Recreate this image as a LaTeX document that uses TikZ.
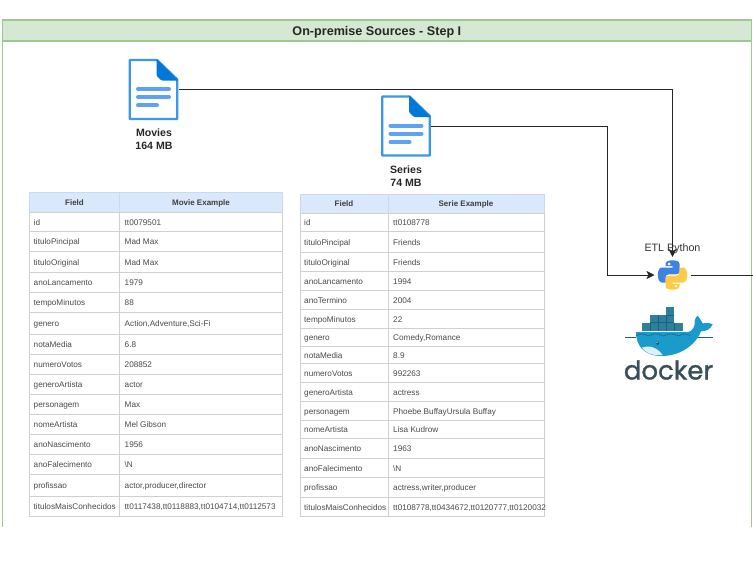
\documentclass[tikz,border=0pt]{standalone}
\usepackage{fontspec}
\setmainfont{Liberation Sans}
\newfontfamily\dockerfont[FakeBold=1.2]{Poppins}
\usetikzlibrary{arrows.meta,calc}
\definecolor{frameG}{HTML}{9CC98E}
\definecolor{headG}{HTML}{D5E8D4}
\definecolor{headB}{HTML}{DAE8FC}
\definecolor{headBline}{HTML}{CAD9EC}
\definecolor{cellLine}{HTML}{D0D0D0}
\definecolor{cellText}{HTML}{4A4A4A}
\definecolor{docBlue}{HTML}{3A97EA}
\definecolor{docDark}{HTML}{0078D7}
\definecolor{docLine}{HTML}{5EA3F2}
\definecolor{pyBlue}{HTML}{3F82E0}
\definecolor{pyYellow}{HTML}{FFCB45}
\definecolor{crate}{HTML}{2E7F9C}
\definecolor{crateD}{HTML}{1F5F78}
\definecolor{whale}{HTML}{1B9BCB}
\definecolor{whaleD}{HTML}{0F6F95}
\definecolor{dockText}{HTML}{394E56}
\tikzset{
  cellbox/.style={draw=cellLine,line width=1pt,fill=white,inner sep=0pt,outer sep=0pt},
  headbox/.style={draw=headBline,line width=1pt,fill=headB,inner sep=0pt,outer sep=0pt},
  celltext/.style={font=\fontsize{8.2}{10}\selectfont,text=cellText,inner sep=0pt,anchor=west,text height=6pt,text depth=1.8pt},
  headtext/.style={font=\bfseries\fontsize{8}{10}\selectfont,text=cellText!85!black,inner sep=0pt,text height=6pt,text depth=1.8pt},
  doclabel/.style={font=\bfseries\fontsize{10.6}{12.8}\selectfont,text=black!85,align=center,inner sep=0pt},
  flow/.style={draw=black!85,line width=.9pt,-{Stealth[length=8pt,width=8pt,inset=2pt]}},
  plainflow/.style={draw=black!85,line width=.9pt},
  framerule/.style={draw=frameG,line width=1.1pt},
  pics/docicon/.style={code={
    \draw[docBlue,line width=2.3pt,fill=white,line join=round] (-23.7,-29.5) -- (3.5,-29.5) -- (23.7,-10) -- (23.7,29.5) -- (-23.7,29.5) -- cycle;
    \fill[docDark,rounded corners=1pt] (3,-30.8) -- (25,-9) -- (8,-9) -- (3,-14) -- cycle;
    \draw[docLine,line width=4pt,line cap=round] (-15.5,-.5) -- (15.5,-.5);
    \draw[docLine,line width=4pt,line cap=round] (-15.5,7.5) -- (15.5,7.5);
    \draw[docLine,line width=4pt,line cap=round] (-15.5,15.8) -- (3.5,15.8);
  }},
  pics/pylogo/.style={code={
    \fill[pyBlue] (-7,-7.5) -- (-7,-11) .. controls (-7,-13.5) and (-4,-14.7) .. (0,-14.7) .. controls (4,-14.7) and (7,-13.5) .. (7,-11) -- (7,-3.5) .. controls (7,-1.5) and (5.5,-.7) .. (3.5,-.7) -- (-3.5,-.7) .. controls (-5.5,-.7) and (-7,.5) .. (-7,3) -- (-7,7.5) -- (-10.5,7.5) .. controls (-13,7.5) and (-14.7,4.5) .. (-14.7,0) .. controls (-14.7,-4.5) and (-13,-7.5) .. (-10.5,-7.5) -- (0,-7.5) -- (0,-8.8) -- (-7,-8.8) -- cycle;
    \fill[pyYellow] (7,7.5) -- (7,11) .. controls (7,13.5) and (4,14.7) .. (0,14.7) .. controls (-4,14.7) and (-7,13.5) .. (-7,11) -- (-7,3.5) .. controls (-7,1.5) and (-5.5,.7) .. (-3.5,.7) -- (3.5,.7) .. controls (5.5,.7) and (7,-.5) .. (7,-3) -- (7,-7.5) -- (10.5,-7.5) .. controls (13,-7.5) and (14.7,-4.5) .. (14.7,0) .. controls (14.7,4.5) and (13,7.5) .. (10.5,7.5) -- (0,7.5) -- (0,8.8) -- (7,8.8) -- cycle;
    \fill[white] (-3.4,-11) circle[radius=1.4];
    \fill[white] (3.4,11) circle[radius=1.4];
  }}
}
% #1 prefix, #2 index, #3 top, #4 bottom, #5 left, #6 split, #7 right, #8 field, #9 value
\newcommand{\tabrow}[9]{%
  \pgfmathsetmacro{\rowmid}{(#3+#4)/2}%
  \pgfmathsetmacro{\rowh}{#4-#3}%
  \pgfmathsetmacro{\cola}{(#5+#6)/2}%
  \pgfmathsetmacro{\colb}{(#6+#7)/2}%
  \pgfmathsetmacro{\wa}{#6-#5}%
  \pgfmathsetmacro{\wb}{#7-#6}%
  \node[cellbox,minimum width=\wa pt,minimum height=\rowh pt] (#1a#2) at (\cola,\rowmid) {};
  \node[cellbox,minimum width=\wb pt,minimum height=\rowh pt] (#1b#2) at (\colb,\rowmid) {};
  \node[celltext] (#1ta#2) at ([xshift=4pt,yshift=-1.7pt]#1a#2.west) {#8};
  \node[celltext] (#1tb#2) at ([xshift=5pt,yshift=-1.7pt]#1b#2.west) {#9};
}
\newcommand{\mrow}[5]{\tabrow{m}{#1}{#2}{#3}{29.5}{119.5}{282.5}{#4}{#5}}
\newcommand{\srow}[5]{\tabrow{s}{#1}{#2}{#3}{300}{388}{544}{#4}{#5}}
\begin{document}
\begin{tikzpicture}[x=1pt,y=-1pt]
\useasboundingbox (0,0) rectangle (753,563);
% frame
\coordinate (frameBL) at (2.5,526.5);
\coordinate (frameBR) at (751.2,526.5);
\node[draw=frameG,line width=1.1pt,fill=headG,minimum width=748.7pt,minimum height=21pt,inner sep=0pt,outer sep=0pt,font=\bfseries\fontsize{12.6}{15}\selectfont,text=black!85,text height=9pt,text depth=0pt] (title) at (376.85,30.5) {On-premise Sources - Step I};
\draw[framerule] (title.south west) -- (frameBL);
\draw[framerule] (title.south east) -- (frameBR);
% documents
\node[minimum width=50pt,minimum height=62pt,inner sep=0pt,outer sep=0pt] (movies) at (153.5,89.5) {};
\pic at (movies.center) {docicon};
\node[doclabel] (movieslabel) at (154,139.5) {Movies\\164 MB};
\node[minimum width=50pt,minimum height=62pt,inner sep=0pt,outer sep=0pt] (series) at (406,126) {};
\pic at (series.center) {docicon};
\node[doclabel] (serieslabel) at (406,175.8) {Series\\74 MB};
% python
\node[font=\fontsize{10.7}{12}\selectfont,text=black!80,inner sep=0pt] (etl) at (672.5,248.5) {ETL Python};
\node[minimum width=36pt,minimum height=36pt,inner sep=0pt,outer sep=0pt] (python) at (672.5,275) {};
\pic at (python.center) {pylogo};
\coordinate (exit) at (753,275);
% connectors
\coordinate (c1) at (python.north |- movies.east);
\coordinate (c2) at (607,126);
\coordinate (c3) at (607,275);
\draw[flow] (movies.east) -- (c1) -- (python.north);
\draw[flow] (series.east) -- (c2) -- (c3) -- (python.west);
\draw[plainflow] (python.east) -- (exit);
% docker
\begin{scope}[shift={(620,300)},x=.3333pt,y=-.3333pt]
  \fill[crate] (138,22) rectangle (163,45);
  \fill[crate] (90,45) rectangle (163,68);
  \fill[crate] (65,68) rectangle (190,92);
  \draw[crateD,line width=.5pt] (90,68) -- (163,68) (138,45) -- (163,45) (115,45) -- (115,92) (138,45) -- (138,92) (163,68) -- (163,92) (90,68) -- (90,92);
  \draw[crateD,line width=.7pt] (48,112) -- (15,112) (230,112) -- (278,112);
  \fill[whale] (48,96) -- (205,96) .. controls (218,92) and (226,80) .. (224,62) .. controls (226,54) and (230,48) .. (233,47) .. controls (240,55) and (245,65) .. (248,70) .. controls (258,68) and (268,68) .. (278,73) .. controls (272,88) and (258,94) .. (243,94) .. controls (232,125) and (190,168) .. (125,168) .. controls (70,168) and (48,135) .. (48,96) -- cycle;
  \fill[white!85!whale] (65,143) .. controls (85,135) and (110,140) .. (128,165) .. controls (100,168) and (78,160) .. (65,143) -- cycle;
  \draw[whaleD,line width=.7pt] (48,108) .. controls (62,100) and (72,100) .. (85,108) .. controls (100,100) and (115,100) .. (130,108) .. controls (145,100) and (160,100) .. (175,108) .. controls (188,100) and (200,100) .. (212,108);
  \fill[whaleD!70!black] (113,130) circle[radius=5];
  \fill[white!70!whale] (111,128) circle[radius=2];
\end{scope}
\node[font=\dockerfont\fontsize{26}{28}\selectfont,text=dockText,inner sep=0pt] (docker) at (668.5,370) {docker};
% movie table
\node[headbox,minimum width=90pt,minimum height=20pt] (mh1) at (74.5,202) {};
\node[headbox,minimum width=163pt,minimum height=20pt] (mh2) at (201,202) {};
\node[headtext] (mh1t) at ([yshift=-1pt]mh1.center) {Field};
\node[headtext] (mh2t) at ([yshift=-1pt]mh2.center) {Movie Example};
\mrow{1}{212}{231}{id}{tt0079501}
\mrow{2}{231}{251}{tituloPincipal}{Mad Max}
\mrow{3}{251}{272}{tituloOriginal}{Mad Max}
\mrow{4}{272}{292}{anoLancamento}{1979}
\mrow{5}{292}{312}{tempoMinutos}{88}
\mrow{6}{312}{334}{genero}{Action,Adventure,Sci-Fi}
\mrow{7}{334}{354}{notaMedia}{6.8}
\mrow{8}{354}{374}{numeroVotos}{208852}
\mrow{9}{374}{394}{generoArtista}{actor}
\mrow{10}{394}{414}{personagem}{Max}
\mrow{11}{414}{434}{nomeArtista}{Mel Gibson}
\mrow{12}{434}{454}{anoNascimento}{1956}
\mrow{13}{454}{474}{anoFalecimento}{\textbackslash N}
\mrow{14}{474}{496}{profissao}{actor,producer,director}
\mrow{15}{496}{516}{titulosMaisConhecidos}{tt0117438,tt0118883,tt0104714,tt0112573}
% series table
\node[headbox,minimum width=88pt,minimum height=19pt] (sh1) at (344,203.5) {};
\node[headbox,minimum width=156pt,minimum height=19pt] (sh2) at (466,203.5) {};
\node[headtext] (sh1t) at ([yshift=-1pt]sh1.center) {Field};
\node[headtext] (sh2t) at ([yshift=-1pt]sh2.center) {Serie Example};
\srow{1}{213}{231}{id}{tt0108778}
\srow{2}{231}{252}{tituloPincipal}{Friends}
\srow{3}{252}{271}{tituloOriginal}{Friends}
\srow{4}{271}{290}{anoLancamento}{1994}
\srow{5}{290}{309}{anoTermino}{2004}
\srow{6}{309}{328}{tempoMinutos}{22}
\srow{7}{328}{346}{genero}{Comedy,Romance}
\srow{8}{346}{363}{notaMedia}{8.9}
\srow{9}{363}{382}{numeroVotos}{992263}
\srow{10}{382}{401}{generoArtista}{actress}
\srow{11}{401}{420}{personagem}{Phoebe BuffayUrsula Buffay}
\srow{12}{420}{438}{nomeArtista}{Lisa Kudrow}
\srow{13}{438}{458}{anoNascimento}{1963}
\srow{14}{458}{477}{anoFalecimento}{\textbackslash N}
\srow{15}{477}{497}{profissao}{actress,writer,producer}
\srow{16}{497}{516}{titulosMaisConhecidos}{tt0108778,tt0434672,tt0120777,tt0120032}
\end{tikzpicture}
\end{document}
